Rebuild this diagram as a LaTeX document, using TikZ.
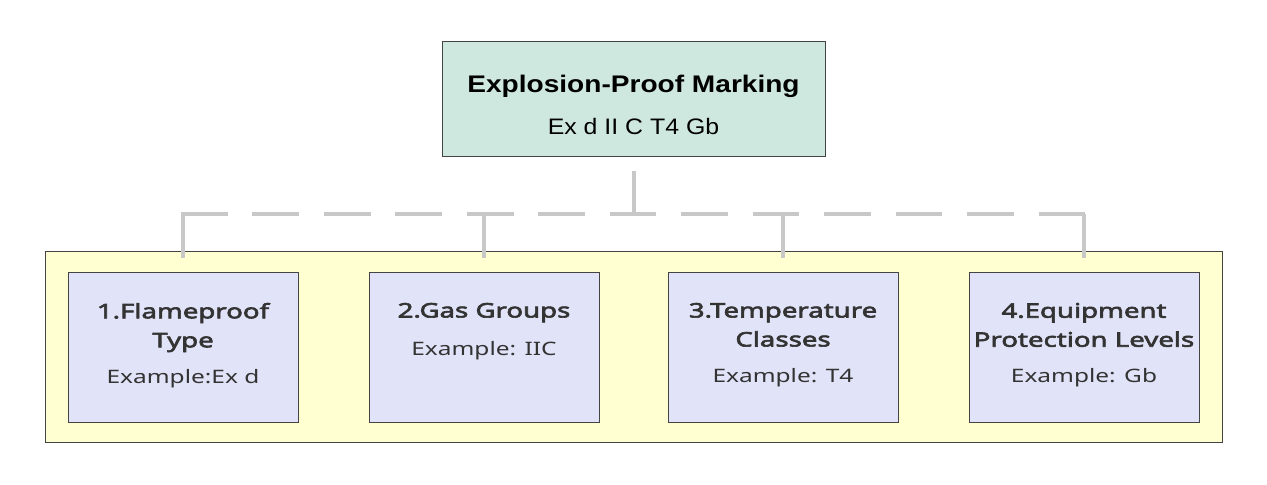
\documentclass[tikz,border=0pt]{standalone}
\usepackage{fontspec}
\setmainfont{Liberation Sans}
\newfontfamily\markfont[FakeStretch=1.17]{Liberation Sans}
\newfontfamily\codefont[FakeStretch=1.11]{Liberation Sans}
\newfontfamily\partfont[FakeStretch=1.32, BoldFont={Noto Sans}, BoldFeatures={FakeBold=3, FakeStretch=1.38}]{Noto Sans}
\definecolor{markfill}{HTML}{CFE8DF}
\definecolor{panelfill}{HTML}{FFFFD2}
\definecolor{partfill}{HTML}{E1E4F8}
\definecolor{boxline}{HTML}{444444}
\definecolor{linkgray}{HTML}{C8C8C8}
\definecolor{parttext}{HTML}{333333}
\tikzset{
    partbox/.style={draw=boxline, fill=partfill, line width=0.75pt, minimum width=172.5pt, minimum height=112.5pt, inner sep=0pt},
    link/.style={draw=linkgray, line width=3pt},
    buslink/.style={link, dash pattern=on 35pt off 18.6pt, shorten <=-1.5pt, shorten >=-1.5pt}
}
\newcommand{\parttext}[3]{%
    \begin{minipage}[c][66pt][t]{172pt}
        \centering\partfont\fontsize{15pt}{21.75pt}\selectfont\color{parttext}
        {\bfseries #1}\\[#2]
        {\fontsize{13.9pt}{21.75pt}\selectfont #3}
    \end{minipage}}
\begin{document}
\begin{tikzpicture}[x=0.75pt, y=-0.75pt]
        \useasboundingbox (0,0) rectangle (1267,485);
        \node[draw=boxline, fill=markfill, line width=0.75pt, minimum width=287.25pt, minimum height=85.5pt, inner sep=0pt] (marking) at (633.5,99) {
            \begin{minipage}[c][36.3pt][t]{280pt}
                \centering\fontsize{18pt}{31.5pt}\selectfont
                {\markfont\bfseries Explosion-Proof Marking}\\
                {\codefont\fontsize{16.8pt}{31.5pt}\selectfont Ex d II C T4 Gb}
            \end{minipage}
        };
        \node[draw=boxline, fill=panelfill, line width=0.75pt, minimum width=882.75pt, minimum height=143.25pt] (panel) at (633.5,346.5) {};
        \node[partbox] (flame) at (183,347) {\parttext{1.Flameproof\\Type}{5.25pt}{Example:Ex d}};
        \node[partbox] (gas) at (484,347) {\parttext{2.Gas Groups}{6.75pt}{Example: IIC}};
        \node[partbox] (temp) at (783,347) {\parttext{3.Temperature\\Classes}{5.25pt}{Example: T4}};
        \node[partbox] (epl) at (1084,347) {\parttext{4.Equipment\\Protection Levels}{5.25pt}{Example: Gb}};
        % connectors
        \coordinate (hub) at (633.5,214);
        \draw[link] ([yshift=-10.5pt]marking.south) -- (hub);
        \draw[buslink] (flame.north |- hub) -- (epl.north |- hub);
        \foreach \part in {flame,gas,temp,epl}
            \draw[link] (\part.north |- hub) -- ([yshift=10.5pt]\part.north);
    \end{tikzpicture}
\end{document}
